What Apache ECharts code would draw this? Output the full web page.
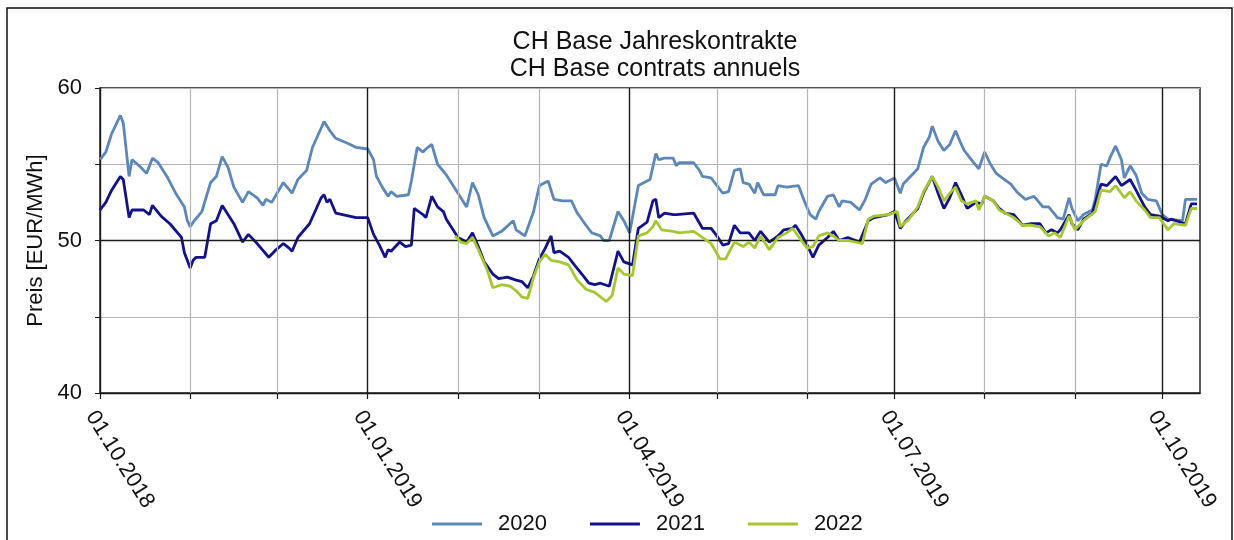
<!DOCTYPE html>
<html>
<head>
<meta charset="utf-8">
<script src="https://cdn.jsdelivr.net/npm/echarts@6/dist/echarts.min.js"></script>
<style>
  html, body { margin: 0; padding: 0; background: #fff; }
  #chart { width: 1234px; height: 540px; }
</style>
</head>
<body>
<div id="chart"></div>
<script>
// Swiss baseload year contracts, daily settlement prices [EUR/MWh]
const s2020 = [
  ['2018-10-01',55.3],['2018-10-03',55.8],['2018-10-05',57.0],['2018-10-08',58.2],['2018-10-09',57.7],
  ['2018-10-11',54.2],['2018-10-12',55.3],['2018-10-15',54.8],['2018-10-17',54.4],['2018-10-19',55.4],
  ['2018-10-21',55.1],['2018-10-24',54.2],['2018-10-27',53.1],['2018-10-30',52.2],['2018-10-31',51.3],
  ['2018-11-01',50.9],['2018-11-02',51.2],['2018-11-05',51.9],['2018-11-08',53.8],['2018-11-10',54.2],
  ['2018-11-12',55.5],['2018-11-14',54.8],['2018-11-16',53.5],['2018-11-19',52.5],['2018-11-21',53.2],
  ['2018-11-24',52.8],['2018-11-26',52.3],['2018-11-27',52.7],['2018-11-29',52.5],['2018-12-03',53.8],
  ['2018-12-06',53.1],['2018-12-08',54.0],['2018-12-11',54.6],['2018-12-13',56.1],['2018-12-17',57.8],
  ['2018-12-19',57.2],['2018-12-21',56.7],['2018-12-26',56.3],['2018-12-28',56.1],['2019-01-01',56.0],
  ['2019-01-03',55.3],['2019-01-04',54.2],['2019-01-06',53.5],['2019-01-08',52.9],['2019-01-09',53.2],
  ['2019-01-11',52.9],['2019-01-15',53.0],['2019-01-16',53.9],['2019-01-18',56.1],['2019-01-20',55.8],
  ['2019-01-21',56.0],['2019-01-23',56.3],['2019-01-25',55.0],['2019-01-28',54.3],['2019-01-30',53.7],
  ['2019-02-02',52.8],['2019-02-04',52.2],['2019-02-06',53.8],['2019-02-08',53.0],['2019-02-10',51.5],
  ['2019-02-13',50.3],['2019-02-16',50.6],['2019-02-20',51.3],['2019-02-21',50.7],['2019-02-24',50.3],
  ['2019-02-27',51.9],['2019-03-01',53.6],['2019-03-04',53.9],['2019-03-06',52.7],['2019-03-09',52.6],
  ['2019-03-12',52.6],['2019-03-14',51.8],['2019-03-17',51.0],['2019-03-19',50.5],['2019-03-22',50.3],
  ['2019-03-23',50.0],['2019-03-25',50.0],['2019-03-28',51.9],['2019-03-30',51.3],['2019-04-01',50.5],
  ['2019-04-04',53.6],['2019-04-07',53.9],['2019-04-08',54.0],['2019-04-10',55.7],['2019-04-11',55.3],
  ['2019-04-13',55.4],['2019-04-16',55.4],['2019-04-17',54.9],['2019-04-18',55.1],['2019-04-23',55.1],
  ['2019-04-25',54.6],['2019-04-26',54.2],['2019-04-29',54.1],['2019-05-03',53.1],['2019-05-05',53.2],
  ['2019-05-07',54.6],['2019-05-09',54.7],['2019-05-10',53.8],['2019-05-12',53.7],['2019-05-14',53.1],
  ['2019-05-15',53.8],['2019-05-17',53.0],['2019-05-21',53.0],['2019-05-22',53.6],['2019-05-25',53.5],
  ['2019-05-29',53.6],['2019-05-31',52.6],['2019-06-02',51.7],['2019-06-04',51.4],['2019-06-05',51.9],
  ['2019-06-08',52.9],['2019-06-10',53.0],['2019-06-12',52.2],['2019-06-13',52.6],['2019-06-16',52.5],
  ['2019-06-19',52.0],['2019-06-21',52.7],['2019-06-23',53.7],['2019-06-26',54.1],['2019-06-28',53.8],
  ['2019-06-30',54.0],['2019-07-01',54.1],['2019-07-03',53.1],['2019-07-04',53.7],['2019-07-07',54.3],
  ['2019-07-09',54.7],['2019-07-11',56.1],['2019-07-13',56.8],['2019-07-14',57.5],['2019-07-16',56.5],
  ['2019-07-18',55.9],['2019-07-20',56.3],['2019-07-22',57.2],['2019-07-24',56.3],['2019-07-25',55.9],
  ['2019-07-27',55.4],['2019-07-30',54.7],['2019-08-01',55.8],['2019-08-03',55.0],['2019-08-05',54.4],
  ['2019-08-07',54.1],['2019-08-10',53.7],['2019-08-12',53.2],['2019-08-15',52.7],['2019-08-18',52.9],
  ['2019-08-21',52.2],['2019-08-23',52.2],['2019-08-26',51.5],['2019-08-28',51.4],['2019-08-30',52.8],
  ['2019-08-31',52.1],['2019-09-02',51.3],['2019-09-04',51.7],['2019-09-07',52.0],['2019-09-08',52.7],
  ['2019-09-10',55.0],['2019-09-12',54.9],['2019-09-13',55.4],['2019-09-15',56.2],['2019-09-17',55.3],
  ['2019-09-18',54.1],['2019-09-20',54.9],['2019-09-22',54.3],['2019-09-24',53.1],['2019-09-26',52.7],
  ['2019-09-29',52.6],['2019-10-01',51.7],['2019-10-03',51.4],['2019-10-08',51.3],['2019-10-09',52.7],
  ['2019-10-13',52.7]
];

const s2021 = [
  ['2018-10-01',52.0],['2018-10-03',52.5],['2018-10-05',53.3],['2018-10-08',54.2],['2018-10-09',54.0],
  ['2018-10-11',51.5],['2018-10-12',52.0],['2018-10-16',52.0],['2018-10-18',51.7],['2018-10-19',52.3],
  ['2018-10-22',51.6],['2018-10-25',51.1],['2018-10-29',50.2],['2018-10-30',49.2],['2018-11-01',48.2],
  ['2018-11-02',48.7],['2018-11-03',48.9],['2018-11-06',48.9],['2018-11-08',51.1],['2018-11-10',51.3],
  ['2018-11-12',52.3],['2018-11-16',51.1],['2018-11-19',49.9],['2018-11-21',50.4],['2018-11-24',49.8],
  ['2018-11-28',48.9],['2018-11-30',49.3],['2018-12-03',49.8],['2018-12-05',49.5],['2018-12-06',49.3],
  ['2018-12-08',50.2],['2018-12-12',51.1],['2018-12-16',52.8],['2018-12-17',53.0],['2018-12-18',52.5],
  ['2018-12-19',52.7],['2018-12-21',51.8],['2018-12-28',51.5],['2019-01-01',51.5],['2019-01-03',50.4],
  ['2019-01-05',49.7],['2019-01-07',48.9],['2019-01-08',49.4],['2019-01-09',49.3],['2019-01-12',49.9],
  ['2019-01-14',49.6],['2019-01-16',49.7],['2019-01-17',52.1],['2019-01-20',51.7],['2019-01-21',51.5],
  ['2019-01-23',52.9],['2019-01-25',52.2],['2019-01-27',51.9],['2019-01-28',51.4],['2019-01-30',50.8],
  ['2019-02-01',50.2],['2019-02-04',49.9],['2019-02-06',50.5],['2019-02-08',49.6],['2019-02-10',48.6],
  ['2019-02-13',47.8],['2019-02-15',47.5],['2019-02-18',47.6],['2019-02-21',47.4],['2019-02-23',47.3],
  ['2019-02-25',46.9],['2019-02-27',47.7],['2019-03-01',48.8],['2019-03-03',49.5],['2019-03-05',50.3],
  ['2019-03-06',49.2],['2019-03-08',49.3],['2019-03-11',48.9],['2019-03-13',48.4],['2019-03-16',47.7],
  ['2019-03-18',47.2],['2019-03-20',47.1],['2019-03-22',47.2],['2019-03-25',47.0],['2019-03-28',49.3],
  ['2019-03-30',48.6],['2019-04-02',48.4],['2019-04-04',50.8],['2019-04-07',51.2],['2019-04-09',52.6],
  ['2019-04-10',52.7],['2019-04-11',51.5],['2019-04-13',51.8],['2019-04-16',51.7],['2019-04-17',51.7],
  ['2019-04-23',51.8],['2019-04-26',50.8],['2019-04-29',50.8],['2019-05-01',50.3],['2019-05-03',49.7],
  ['2019-05-05',49.8],['2019-05-07',51.0],['2019-05-09',50.5],['2019-05-12',50.5],['2019-05-14',50.0],
  ['2019-05-16',50.6],['2019-05-19',49.9],['2019-05-22',50.3],['2019-05-24',50.7],['2019-05-27',50.8],
  ['2019-05-28',51.0],['2019-05-30',50.4],['2019-06-01',49.7],['2019-06-03',48.9],['2019-06-05',49.7],
  ['2019-06-08',50.2],['2019-06-10',50.6],['2019-06-12',50.0],['2019-06-15',50.2],['2019-06-19',49.9],
  ['2019-06-22',51.3],['2019-06-24',51.5],['2019-06-29',51.7],['2019-07-01',51.9],['2019-07-03',50.8],
  ['2019-07-05',51.3],['2019-07-09',52.1],['2019-07-11',53.1],['2019-07-14',54.2],['2019-07-16',53.1],
  ['2019-07-18',52.1],['2019-07-20',52.8],['2019-07-22',53.8],['2019-07-24',53.0],['2019-07-26',52.1],
  ['2019-07-29',52.5],['2019-07-31',52.4],['2019-08-01',52.9],['2019-08-04',52.6],['2019-08-06',52.1],
  ['2019-08-08',51.8],['2019-08-11',51.7],['2019-08-14',51.0],['2019-08-17',51.1],['2019-08-20',51.1],
  ['2019-08-22',50.5],['2019-08-24',50.7],['2019-08-26',50.5],['2019-08-27',50.7],['2019-08-30',51.7],
  ['2019-08-31',51.1],['2019-09-02',50.7],['2019-09-04',51.4],['2019-09-07',51.8],['2019-09-10',53.7],
  ['2019-09-12',53.6],['2019-09-15',54.2],['2019-09-17',53.6],['2019-09-20',54.0],['2019-09-22',53.3],
  ['2019-09-25',52.2],['2019-09-27',51.7],['2019-09-30',51.6],['2019-10-03',51.3],['2019-10-04',51.4],
  ['2019-10-09',51.1],['2019-10-11',52.4],['2019-10-13',52.4]
];

const s2022 = [
  ['2019-01-31',50.3],['2019-02-02',49.9],['2019-02-04',49.8],['2019-02-06',50.2],['2019-02-08',49.4],
  ['2019-02-11',48.1],['2019-02-13',46.9],['2019-02-16',47.1],['2019-02-19',47.0],['2019-02-21',46.7],
  ['2019-02-23',46.3],['2019-02-25',46.2],['2019-02-27',47.6],['2019-03-01',48.6],['2019-03-03',49.1],
  ['2019-03-05',48.7],['2019-03-08',48.6],['2019-03-11',48.4],['2019-03-14',47.4],['2019-03-17',46.8],
  ['2019-03-20',46.6],['2019-03-24',46.0],['2019-03-26',46.4],['2019-03-28',48.2],['2019-03-30',47.8],
  ['2019-04-02',47.7],['2019-04-04',50.3],['2019-04-07',50.5],['2019-04-09',50.9],['2019-04-10',51.3],
  ['2019-04-12',50.7],['2019-04-16',50.6],['2019-04-18',50.5],['2019-04-23',50.6],['2019-04-26',50.2],
  ['2019-04-29',49.8],['2019-05-02',48.8],['2019-05-04',48.8],['2019-05-07',49.9],['2019-05-10',49.6],
  ['2019-05-12',49.9],['2019-05-14',49.5],['2019-05-16',50.3],['2019-05-19',49.4],['2019-05-22',50.2],
  ['2019-05-25',50.5],['2019-05-27',50.8],['2019-05-30',50.0],['2019-06-01',49.5],['2019-06-03',49.6],
  ['2019-06-05',50.3],['2019-06-08',50.5],['2019-06-10',50.3],['2019-06-12',50.0],['2019-06-15',50.0],
  ['2019-06-20',49.8],['2019-06-22',51.4],['2019-06-24',51.6],['2019-06-29',51.7],['2019-07-02',51.9],
  ['2019-07-03',50.9],['2019-07-06',51.4],['2019-07-09',52.2],['2019-07-11',53.2],['2019-07-14',54.2],
  ['2019-07-16',53.5],['2019-07-18',52.6],['2019-07-20',53.1],['2019-07-22',53.5],['2019-07-24',52.6],
  ['2019-07-26',52.4],['2019-07-29',52.6],['2019-07-30',52.0],['2019-08-01',52.9],['2019-08-04',52.6],
  ['2019-08-06',52.0],['2019-08-09',51.7],['2019-08-11',51.5],['2019-08-14',51.0],['2019-08-17',51.0],
  ['2019-08-20',50.9],['2019-08-23',50.3],['2019-08-25',50.5],['2019-08-27',50.2],['2019-08-30',51.6],
  ['2019-09-01',50.7],['2019-09-04',51.3],['2019-09-08',51.9],['2019-09-10',53.3],['2019-09-13',53.2],
  ['2019-09-15',53.6],['2019-09-18',52.8],['2019-09-20',53.2],['2019-09-22',52.6],['2019-09-25',52.0],
  ['2019-09-27',51.5],['2019-09-30',51.5],['2019-10-03',50.7],['2019-10-05',51.1],['2019-10-09',51.0],
  ['2019-10-11',52.1],['2019-10-13',52.1]
];

const seriesNames = ['2020', '2021', '2022'];
const seriesColors = ['#5c87b8', '#12128a', '#a5c832'];

// axis range and calendar grid
const xStart = '2018-10-01';
const xEnd = '2019-10-14';
const monthStarts = ['2018-11-01','2018-12-01','2019-02-01','2019-03-01','2019-05-01','2019-06-01','2019-08-01','2019-09-01'];
const quarterStarts = ['2018-10-01','2019-01-01','2019-04-01','2019-07-01','2019-10-01'];
const yLabels = [40, 50, 60];

const FONT = '"Liberation Sans", Arial, sans-serif';
const ts = d => +echarts.time.parse(d);
const pad = n => (n < 10 ? '0' : '') + n;
const fmtDate = v => {
  const d = new Date(v);
  return pad(d.getDate()) + '.' + pad(d.getMonth() + 1) + '.' + d.getFullYear();
};

const chart = echarts.init(document.getElementById('chart'), null, { renderer: 'canvas' });

const allTicks = monthStarts.concat(quarterStarts).map(ts).sort((a, b) => a - b);

const gridLines = []
  .concat(monthStarts.map(d => ({ xAxis: ts(d), lineStyle: { color: '#b4b4b4', width: 1.2, type: 'solid' } })))
  .concat(quarterStarts.slice(1).map(d => ({ xAxis: ts(d), lineStyle: { color: '#1a1a1a', width: 1.4, type: 'solid' } })))
  .concat([{ yAxis: 50, lineStyle: { color: '#1a1a1a', width: 1.4, type: 'solid' } }]);

const dataSeries = [s2020, s2021, s2022].map((data, i) => ({
  name: seriesNames[i],
  type: 'line',
  data: data.map(p => [ts(p[0]), p[1]]),
  showSymbol: false,
  symbol: 'none',
  z: 3 + i,
  lineStyle: { color: seriesColors[i], width: 2.8 },
  itemStyle: { color: seriesColors[i] },
  emphasis: { disabled: true },
  animation: false
}));

chart.setOption({
  backgroundColor: '#fff',
  animation: false,
  title: {
    text: 'CH Base Jahreskontrakte\nCH Base contrats annuels',
    left: 650,
    top: 24,
    textAlign: 'center',
    textStyle: { fontFamily: FONT, fontSize: 25, fontWeight: 'normal', color: '#111', lineHeight: 27 }
  },
  legend: {
    top: 513,
    left: 432,
    padding: 0,
    itemWidth: 50,
    itemHeight: 3,
    itemGap: 43,
    icon: 'rect',
    data: seriesNames,
    textStyle: { fontFamily: FONT, fontSize: 22, color: '#111', padding: [0, 0, 0, 11] }
  },
  grid: {
    left: 100, right: 34, top: 88, bottom: 147,
    show: true, borderColor: '#1a1a1a', borderWidth: 1.4,
    containLabel: false
  },
  graphic: [{
    type: 'rect',
    shape: { x: 7, y: 8, width: 1225, height: 560 },
    style: { fill: 'none', stroke: '#111', lineWidth: 1.5 },
    silent: true
  }],
  xAxis: {
    type: 'value',
    min: ts(xStart),
    max: ts(xEnd),
    axisLine: { show: true, lineStyle: { color: '#1a1a1a', width: 1.4 } },
    axisTick: { show: true, length: 6, customValues: allTicks, lineStyle: { color: '#1a1a1a', width: 1.2 } },
    splitLine: { show: false },
    axisLabel: {
      customValues: quarterStarts.map(ts),
      rotate: -58,
      margin: 14,
      verticalAlign: 'top',
      fontFamily: FONT,
      fontSize: 22,
      color: '#111',
      formatter: fmtDate
    }
  },
  yAxis: {
    type: 'value',
    min: 40,
    max: 60,
    interval: 5,
    name: 'Preis [EUR/MWh]',
    nameLocation: 'middle',
    nameGap: 45,
    nameTextStyle: { fontFamily: FONT, fontSize: 22, color: '#111' },
    axisLine: { show: true, lineStyle: { color: '#1a1a1a', width: 1.4 } },
    axisTick: { show: true, inside: false, length: 5, lineStyle: { color: '#1a1a1a' } },
    splitLine: { show: true, lineStyle: { color: '#b4b4b4', width: 1.2 } },
    axisLabel: {
      fontFamily: FONT, fontSize: 22, color: '#111', margin: 18,
      formatter: v => (yLabels.indexOf(v) >= 0 ? String(v) : '')
    }
  },
  series: [{
    type: 'line',
    name: 'grid',
    data: [],
    z: 1,
    silent: true,
    markLine: { silent: true, symbol: 'none', label: { show: false }, animation: false, data: gridLines }
  }].concat(dataSeries)
});
</script>
</body>
</html>
